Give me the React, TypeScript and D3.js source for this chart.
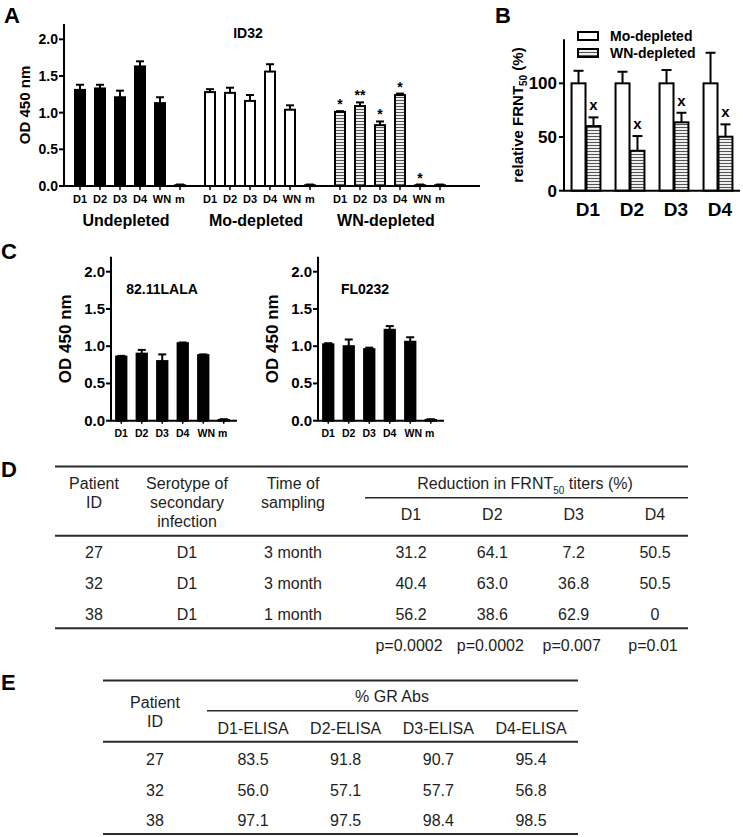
import React from 'react';
import * as d3 from 'd3';

// ---------- Panel A data ----------
const aGroups = ['Undepleted', 'Mo-depleted', 'WN-depleted'];
const aCats = ['D1', 'D2', 'D3', 'D4', 'WN', 'm'];
const aUndepleted = [1.31, 1.33, 1.21, 1.63, 1.13, 0.01];
const aUndepletedErr = [1.38, 1.38, 1.30, 1.70, 1.21, 0.02];
const aMoDepleted = [1.28, 1.27, 1.16, 1.56, 1.04, 0.01];
const aMoDepletedErr = [1.32, 1.34, 1.24, 1.66, 1.10, 0.02];
const aWNDepleted = [1.01, 1.09, 0.83, 1.24, 0.01, 0.01];
const aWNDepletedErr = [1.02, 1.14, 0.88, 1.26, 0.02, 0.02];
const aWNStars = ['*', '**', '*', '*', '*', ''];
const aTicks = [0, 0.5, 1.0, 1.5, 2.0];

// ---------- Panel B data ----------
const bCats = ['D1', 'D2', 'D3', 'D4'];
const bSeries = ['Mo-depleted', 'WN-depleted'];
const bMo = [100, 100, 100, 100];
const bMoErr = [111.7, 110.8, 112.4, 128.5];
const bWN = [60.2, 37.2, 63.7, 50.3];
const bWNErr = [68.3, 50.9, 72.6, 61.8];
const bTicks = [0, 50, 100];

// ---------- Panel C data ----------
const cCats = ['D1', 'D2', 'D3', 'D4', 'WN', 'm'];
const c8211 = [0.86, 0.90, 0.80, 1.04, 0.88, 0.01];
const c8211Err = [0.87, 0.95, 0.89, 1.05, 0.89, 0.02];
const cFL = [1.025, 1.0, 0.96, 1.22, 1.06, 0.01];
const cFLErr = [1.04, 1.09, 0.98, 1.27, 1.12, 0.02];
const cTicks = [0, 0.5, 1.0, 1.5, 2.0];

// ---------- Table D data ----------
const dHeadId = ['Patient', 'ID'];
const dHeadSero = ['Serotype of', 'secondary', 'infection'];
const dHeadTime = ['Time of', 'sampling'];
const dSerotypes = ['D1', 'D2', 'D3', 'D4'];
const dPatients = ['27', '32', '38'];
const dSecondary = ['D1', 'D1', 'D1'];
const dTime = ['3 month', '3 month', '1 month'];
const dReduction = [
  ['31.2', '64.1', '7.2', '50.5'],
  ['40.4', '63.0', '36.8', '50.5'],
  ['56.2', '38.6', '62.9', '0'],
];
const dPValues = ['p=0.0002', 'p=0.0002', 'p=0.007', 'p=0.01'];

// ---------- Table E data ----------
const eHeaders = ['D1-ELISA', 'D2-ELISA', 'D3-ELISA', 'D4-ELISA'];
const ePatients = ['27', '32', '38'];
const eValues = [
  ['83.5', '91.8', '90.7', '95.4'],
  ['56.0', '57.1', '57.7', '56.8'],
  ['97.1', '97.5', '98.4', '98.5'],
];

const BOLD = "'Liberation Sans', Arial, Helvetica, sans-serif";
const REG = "'Liberation Sans', Arial, Helvetica, sans-serif";
const TXT = '#1e1e1e';

function Bar({ cx, w, y0, y1, fill }: any) {
  const top = Math.min(y0, y1);
  const h = Math.max(Math.abs(y0 - y1), 0.8);
  return <rect x={cx - w / 2 + 1} y={top} width={w - 2} height={h} fill={fill} stroke="#000" strokeWidth={2} />;
}

function ErrBar({ cx, yv, ye, cap }: any) {
  return (
    <g stroke="#000" strokeWidth={2}>
      <line x1={cx} x2={cx} y1={yv} y2={ye} />
      <line x1={cx - cap / 2} x2={cx + cap / 2} y1={ye} y2={ye} />
    </g>
  );
}

function PanelA() {
  const y = d3.scaleLinear().domain([0, 2]).range([186, 39.3]);
  const axisX = 64;
  const g = d3.scalePoint<string>().domain(aGroups).range([130, 390]);
  const inner = d3.scaleBand<string>().domain(aCats).range([-60, 60]).paddingInner(0.4).paddingOuter(0.2);
  const vals = [aUndepleted, aMoDepleted, aWNDepleted];
  const errs = [aUndepletedErr, aMoDepletedErr, aWNDepletedErr];
  const fills = ['#000', '#fff', 'url(#hatch)'];
  const bw = inner.bandwidth();
  return (
    <g>
      <text x={4} y={23} fontFamily={BOLD} fontWeight="bold" fontSize={22}>A</text>
      <text x={248} y={38} textAnchor="middle" fontFamily={BOLD} fontWeight="bold" fontSize={14}>ID32</text>
      {aGroups.map((grp, gi) => (
        <g key={grp}>
          {aCats.map((c, i) => {
            const cx = (g(grp) as number) + (inner(c) as number) + bw / 2;
            return (
              <g key={c}>
                <ErrBar cx={cx} yv={y(vals[gi][i])} ye={y(errs[gi][i])} cap={8} />
                <Bar cx={cx} w={bw} y0={y(0)} y1={y(vals[gi][i])} fill={fills[gi]} />
                <line x1={cx} x2={cx} y1={y(0)} y2={y(0) + 4} stroke="#000" strokeWidth={1.5} />
                <text x={cx + (c === 'WN' ? 2 : 0)} y={203} textAnchor="middle" fontFamily={BOLD} fontWeight="bold" fontSize={11}>{c}</text>
                {gi === 2 && aWNStars[i] && (
                  <text x={cx} y={y(errs[gi][i]) - 2} textAnchor="middle" fontFamily={BOLD} fontWeight="bold" fontSize={14}>{aWNStars[i]}</text>
                )}
              </g>
            );
          })}
          <text x={(g(grp) as number) - 4} y={226} textAnchor="middle" fontFamily={BOLD} fontWeight="bold" fontSize={16}>{grp}</text>
        </g>
      ))}
      <line x1={axisX} x2={axisX} y1={y(0)} y2={y(2.21)} stroke="#000" strokeWidth={2} />
      <line x1={axisX - 1} x2={480} y1={y(0)} y2={y(0)} stroke="#000" strokeWidth={2} />
      {aTicks.map((t) => (
        <g key={t}>
          <line x1={axisX - 5} x2={axisX} y1={y(t)} y2={y(t)} stroke="#000" strokeWidth={2} />
          <text x={axisX - 6} y={y(t) + 5} textAnchor="end" fontFamily={BOLD} fontWeight="bold" fontSize={14}>{d3.format('.1f')(t)}</text>
        </g>
      ))}
      <text transform={`translate(30,${(y(0) + y(2.21)) / 2}) rotate(-90)`} textAnchor="middle" fontFamily={BOLD} fontWeight="bold" fontSize={15}>OD 450 nm</text>
    </g>
  );
}

function PanelB() {
  const y = d3.scaleLinear().domain([0, 140]).range([190.7, 40.4]);
  const axisX = 564;
  const x = d3.scaleBand<string>().domain(bCats).range([564, 740]).paddingInner(0.32).paddingOuter(0.16);
  const sub = d3.scaleBand<string>().domain(bSeries).range([0, x.bandwidth()]);
  const sw = sub.bandwidth();
  const vals = [bMo, bWN];
  const errs = [bMoErr, bWNErr];
  const fills = ['#fff', 'url(#hatch)'];
  return (
    <g>
      <text x={495} y={23} fontFamily={BOLD} fontWeight="bold" fontSize={22}>B</text>
      {bCats.map((c, i) => (
        <g key={c}>
          {bSeries.map((s, si) => {
            const cx = (x(c) as number) + (sub(s) as number) + sw / 2;
            return (
              <g key={s}>
                <ErrBar cx={cx} yv={y(vals[si][i])} ye={y(errs[si][i])} cap={10} />
                <Bar cx={cx} w={sw + 1} y0={y(0)} y1={y(vals[si][i])} fill={fills[si]} />
                {si === 1 && (
                  <text x={cx} y={y(errs[si][i]) - 7} textAnchor="middle" fontFamily={BOLD} fontWeight="bold" fontSize={15}>x</text>
                )}
              </g>
            );
          })}
          <text x={(x(c) as number) + x.bandwidth() / 2 + 2} y={216} textAnchor="middle" fontFamily={BOLD} fontWeight="bold" fontSize={19}>{c}</text>
        </g>
      ))}
      <line x1={axisX} x2={axisX} y1={y(0)} y2={y(141)} stroke="#000" strokeWidth={2} />
      <line x1={axisX - 1} x2={740} y1={y(0)} y2={y(0)} stroke="#000" strokeWidth={2} />
      {bTicks.map((t) => (
        <g key={t}>
          <line x1={axisX - 5} x2={axisX} y1={y(t)} y2={y(t)} stroke="#000" strokeWidth={2} />
          <text x={axisX - 7} y={y(t) + 6} textAnchor="end" fontFamily={BOLD} fontWeight="bold" fontSize={17}>{t}</text>
        </g>
      ))}
      <text transform={`translate(523,115) rotate(-90)`} textAnchor="middle" fontFamily={BOLD} fontWeight="bold" fontSize={15}>
        relative FRNT<tspan fontSize={10} dy={4}>50</tspan><tspan dy={-4}> (%)</tspan>
      </text>
      {bSeries.map((s, si) => (
        <g key={s}>
          <rect x={578} y={32 + si * 17} width={20} height={8} fill={fills[si]} stroke="#000" strokeWidth={2} />
          <text x={610} y={41 + si * 17} fontFamily={BOLD} fontWeight="bold" fontSize={14}>{s}</text>
        </g>
      ))}
    </g>
  );
}

function PanelCChart({ axisX, title, titleX, vals, errs }: any) {
  const y = d3.scaleLinear().domain([0, 2]).range([420.7, 271.7]);
  const x = d3.scaleBand<string>().domain(cCats).range([axisX, axisX + 123]).paddingInner(0.4).paddingOuter(0.2);
  const bw = x.bandwidth();
  return (
    <g>
      <text x={titleX} y={294} textAnchor="middle" fontFamily={BOLD} fontWeight="bold" fontSize={14}>{title}</text>
      {cCats.map((c, i) => {
        const cx = (x(c) as number) + bw / 2;
        return (
          <g key={c}>
            <ErrBar cx={cx} yv={y(vals[i])} ye={y(errs[i])} cap={8} />
            <Bar cx={cx} w={bw} y0={y(0)} y1={y(vals[i])} fill="#000" />
            <line x1={cx} x2={cx} y1={y(0)} y2={y(0) + 3} stroke="#000" strokeWidth={1.5} />
            <text x={cx + (c === 'WN' ? 3 : c === 'm' ? -1 : 0)} y={437} textAnchor="middle" fontFamily={BOLD} fontWeight="bold" fontSize={10.5}>{c}</text>
          </g>
        );
      })}
      <line x1={axisX} x2={axisX} y1={y(0)} y2={y(2.2)} stroke="#000" strokeWidth={2} />
      <line x1={axisX - 1} x2={axisX + 126} y1={y(0)} y2={y(0)} stroke="#000" strokeWidth={2} />
      {cTicks.map((t) => (
        <g key={t}>
          <line x1={axisX - 5} x2={axisX} y1={y(t)} y2={y(t)} stroke="#000" strokeWidth={2} />
          <text x={axisX - 6} y={y(t) + 5} textAnchor="end" fontFamily={BOLD} fontWeight="bold" fontSize={15}>{d3.format('.1f')(t)}</text>
        </g>
      ))}
      <text transform={`translate(${axisX - 40},${(y(0) + y(2.2)) / 2}) rotate(-90)`} textAnchor="middle" fontFamily={BOLD} fontWeight="bold" fontSize={17}>OD 450 nm</text>
    </g>
  );
}

function PanelC() {
  return (
    <g>
      <text x={1} y={259} fontFamily={BOLD} fontWeight="bold" fontSize={22}>C</text>
      <PanelCChart axisX={111} title="82.11LALA" titleX={162} vals={c8211} errs={c8211Err} />
      <PanelCChart axisX={318} title="FL0232" titleX={365} vals={cFL} errs={cFLErr} />
    </g>
  );
}

function T({ x, y, children, size = 16 }: any) {
  return <text x={x} y={y} dy="0.36em" textAnchor="middle" fontFamily={REG} fontSize={size} fill={TXT}>{children}</text>;
}

function TableD() {
  const col = d3.scalePoint<string>().domain(dSerotypes).range([411, 655]);
  const rowY = d3.scalePoint<string>().domain(dPatients).range([552, 614]);
  const L = '#2a2a2a';
  return (
    <g>
      <text x={1} y={477} fontFamily={BOLD} fontWeight="bold" fontSize={22}>D</text>
      <line x1={55} x2={688} y1={466.5} y2={466.5} stroke={L} strokeWidth={2} />
      {dHeadId.map((t, i) => <T key={t} x={94} y={483 + i * 19}>{t}</T>)}
      {dHeadSero.map((t, i) => <T key={t} x={187} y={483 + i * 19}>{t}</T>)}
      {dHeadTime.map((t, i) => <T key={t} x={293} y={483 + i * 19}>{t}</T>)}
      <text x={525} y={483} dy="0.36em" textAnchor="middle" fontFamily={REG} fontSize={16} fill={TXT}>
        Reduction in FRNT<tspan fontSize={10} dy={5}>50</tspan><tspan dy={-5}> titers (%)</tspan>
      </text>
      <line x1={365} x2={688} y1={497.7} y2={497.7} stroke={L} strokeWidth={1.6} />
      {dSerotypes.map((s) => <T key={s} x={col(s)} y={514}>{s}</T>)}
      <line x1={55} x2={688} y1={535.7} y2={535.7} stroke={L} strokeWidth={2} />
      {dPatients.map((p, r) => (
        <g key={p}>
          <T x={94} y={rowY(p)}>{p}</T>
          <T x={187} y={rowY(p)}>{dSecondary[r]}</T>
          <T x={293} y={rowY(p)}>{dTime[r]}</T>
          {dSerotypes.map((s, ci) => <T key={s} x={col(s)} y={rowY(p)}>{dReduction[r][ci]}</T>)}
        </g>
      ))}
      <line x1={55} x2={688} y1={628.3} y2={628.3} stroke={L} strokeWidth={2} />
      {dSerotypes.map((s, ci) => <T key={s} x={(col(s) as number) - 2} y={645}>{dPValues[ci]}</T>)}
    </g>
  );
}

function TableE() {
  const col = d3.scalePoint<string>().domain(eHeaders).range([253, 531]);
  const rowY = d3.scalePoint<string>().domain(ePatients).range([759.5, 820]);
  const L = '#2a2a2a';
  return (
    <g>
      <text x={1} y={690} fontFamily={BOLD} fontWeight="bold" fontSize={22}>E</text>
      <line x1={103} x2={578} y1={680.5} y2={680.5} stroke={L} strokeWidth={2} />
      <T x={155} y={702}>Patient</T>
      <T x={155} y={721}>ID</T>
      <T x={392} y={696}>% GR Abs</T>
      <line x1={207} x2={578} y1={710.7} y2={710.7} stroke={L} strokeWidth={1.6} />
      {eHeaders.map((h) => <T key={h} x={col(h)} y={728}>{h}</T>)}
      <line x1={103} x2={578} y1={741.7} y2={741.7} stroke={L} strokeWidth={2} />
      {ePatients.map((p, r) => (
        <g key={p}>
          <T x={155} y={rowY(p)}>{p}</T>
          {eHeaders.map((h, ci) => <T key={h} x={col(h)} y={rowY(p)}>{eValues[r][ci]}</T>)}
        </g>
      ))}
      <line x1={103} x2={578} y1={834} y2={834} stroke={L} strokeWidth={2} />
    </g>
  );
}

export default function App() {
  return (
    <svg width={743} height={837} style={{ position: 'absolute', left: 0, top: 0, background: '#fff' }}>
      <defs>
        <pattern id="hatch" patternUnits="userSpaceOnUse" width={6} height={3}>
          <rect width={6} height={3} fill="#fff" />
          <line x1={0} x2={6} y1={1.5} y2={1.5} stroke="#555" strokeWidth={1.2} />
        </pattern>
      </defs>
      <rect width={743} height={837} fill="#fff" />
      <PanelA />
      <PanelB />
      <PanelC />
      <TableD />
      <TableE />
    </svg>
  );
}
